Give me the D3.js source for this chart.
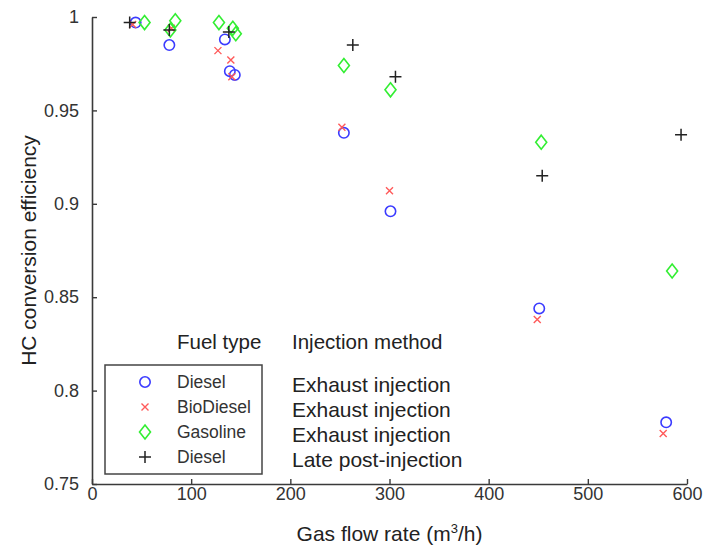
<!DOCTYPE html>
<html><head><meta charset="utf-8">
<script src="https://cdn.jsdelivr.net/npm/d3@7"></script>
<style>
body{margin:0;background:#fff;}
svg{display:block;}
</style></head>
<body><svg id="c" width="704" height="554"></svg>
<script>
// ---- data ----
const dieselX = [44, 78, 134, 139, 144, 254, 301, 451, 579];
const dieselY = [0.997, 0.985, 0.988, 0.971, 0.969, 0.938, 0.896, 0.844, 0.783];
const bioX = [41, 80, 127, 140, 141, 252, 300, 449, 576];
const bioY = [0.996, 0.994, 0.982, 0.977, 0.968, 0.941, 0.907, 0.838, 0.777];
const gasX = [53, 79, 84, 128, 142, 145, 254, 301, 453, 585];
const gasY = [0.997, 0.993, 0.998, 0.997, 0.994, 0.991, 0.974, 0.961, 0.933, 0.864];
const postX = [38, 78, 138, 263, 306, 454, 594];
const postY = [0.997, 0.993, 0.992, 0.985, 0.968, 0.915, 0.937];
const xTicks = [0, 100, 200, 300, 400, 500, 600];
const yTicks = [0.75, 0.8, 0.85, 0.9, 0.95, 1];
const fuelNames = ["Diesel", "BioDiesel", "Gasoline", "Diesel"];
const methodNames = ["Exhaust injection", "Exhaust injection", "Exhaust injection", "Late post-injection"];
const xTitle = "Gas flow rate (m";
const yTitle = "HC conversion efficiency";

const svg = d3.select("#c");
const x = d3.scaleLinear().domain([0, 600]).range([92, 687]);
const y = d3.scaleLinear().domain([0.75, 1]).range([484, 17]);
const axisColor = "#3a3a3a";
const tickFont = "'Liberation Sans Narrow','Arial Narrow','Liberation Sans',Arial,sans-serif";
const font = "'Liberation Sans',Arial,sans-serif";

// axes
const gx = svg.append("g").attr("transform", `translate(0,${y(0.75)})`)
  .call(d3.axisBottom(x).tickValues(xTicks).tickFormat(d3.format("d")).tickSizeInner(-5).tickSizeOuter(0).tickPadding(3));
const gy = svg.append("g").attr("transform", `translate(${x(0)},0)`)
  .call(d3.axisLeft(y).tickValues(yTicks).tickFormat(d => d === 1 ? "1" : String(d)).tickSizeInner(-5).tickSizeOuter(0).tickPadding(13));
[gx, gy].forEach(g => {
  g.select(".domain").attr("stroke", axisColor).attr("stroke-width", 1.6);
  g.selectAll(".tick line").attr("stroke", axisColor).attr("stroke-width", 1.4);
  g.selectAll(".tick text").attr("fill", "#333").style("font-family", tickFont).style("font-size", "18px");
});

// axis titles
const xt = svg.append("text").attr("x", x(300)).attr("y", 541).attr("text-anchor", "middle")
  .style("font-family", font).style("font-size", "21px").attr("fill", "#222");
xt.append("tspan").text(xTitle);
xt.append("tspan").attr("dy", -8).style("font-size", "13px").text("3");
xt.append("tspan").attr("dy", 8).text("/h)");
svg.append("text").attr("transform", `translate(36,${(y(0.75)+y(1))/2}) rotate(-90)`)
  .attr("text-anchor", "middle").style("font-family", font).style("font-size", "21px").attr("fill", "#222")
  .text(yTitle);

// marker drawers
const blue = "#3b3bff", red = "#ff5a5a", green = "#33ee33", black = "#222";
function circle(g, cx, cy) {
  g.append("circle").attr("cx", cx).attr("cy", cy).attr("r", 5.2).attr("fill", "none").attr("stroke", blue).attr("stroke-width", 1.6);
}
function cross(g, cx, cy) {
  const s = 3.5;
  g.append("path").attr("d", `M${cx-s},${cy-s}L${cx+s},${cy+s}M${cx-s},${cy+s}L${cx+s},${cy-s}`)
    .attr("stroke", red).attr("stroke-width", 1.4).attr("fill", "none");
}
function diamond(g, cx, cy) {
  const w = 5.5, h = 7;
  g.append("path").attr("d", `M${cx},${cy-h}L${cx+w},${cy}L${cx},${cy+h}L${cx-w},${cy}Z`)
    .attr("stroke", green).attr("stroke-width", 1.6).attr("fill", "none");
}
function plus(g, cx, cy) {
  const s = 6;
  g.append("path").attr("d", `M${cx-s},${cy}L${cx+s},${cy}M${cx},${cy-s}L${cx},${cy+s}`)
    .attr("stroke", black).attr("stroke-width", 1.5).attr("fill", "none");
}

const series = [
  {xs: dieselX, ys: dieselY, draw: circle},
  {xs: bioX, ys: bioY, draw: cross},
  {xs: gasX, ys: gasY, draw: diamond},
  {xs: postX, ys: postY, draw: plus}
];
const plot = svg.append("g");
series.forEach(s => {
  s.xs.forEach((xv, i) => s.draw(plot, x(xv), y(s.ys[i])));
});

// legend
const leg = svg.append("g");
leg.append("rect").attr("x", 105).attr("y", 365).attr("width", 157).attr("height", 109)
  .attr("fill", "#fff").attr("stroke", "#444").attr("stroke-width", 1.5);
leg.append("text").attr("x", 177).attr("y", 349).text("Fuel type")
  .style("font-family", font).style("font-size", "20.5px").attr("fill", "#222");
leg.append("text").attr("x", 292).attr("y", 349).text("Injection method")
  .style("font-family", font).style("font-size", "20.5px").attr("fill", "#222");
const draws = [circle, cross, diamond, plus];
fuelNames.forEach((n, i) => {
  const cy = 382 + i * 25;
  draws[i](leg, 145, cy);
  leg.append("text").attr("x", 177).attr("y", cy + 6).text(n)
    .style("font-family", font).style("font-size", "17.5px").attr("fill", "#333");
  leg.append("text").attr("x", 292).attr("y", cy + 10).text(methodNames[i])
    .style("font-family", font).style("font-size", "21px").attr("fill", "#222");
});
</script></body></html>
